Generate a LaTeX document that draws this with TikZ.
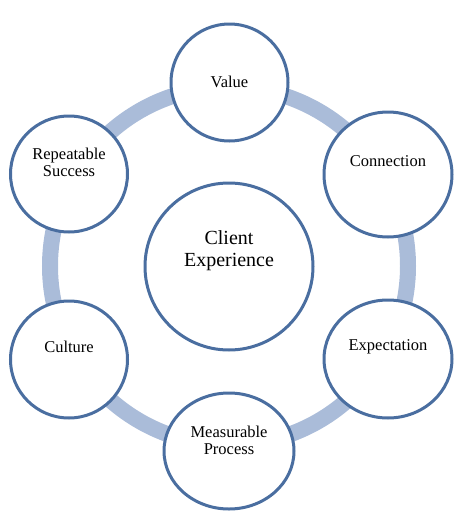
\documentclass[tikz,border=0pt]{standalone}
\usepackage{fontspec}
\setmainfont{Liberation Serif}
\usetikzlibrary{shapes.geometric}
\definecolor{ringblue}{RGB}{170,188,217}
\definecolor{edgeblue}{RGB}{74,110,160}
\tikzset{
  bubble/.style={ellipse, draw=edgeblue, line width=3pt, fill=white, inner sep=0pt},
  lbl/.style={align=center, font=\fontsize{16.5}{17}\selectfont, inner sep=0pt},
  biglbl/.style={align=center, font=\fontsize{20}{22}\selectfont, inner sep=0pt},
  ringline/.style={draw=ringblue, line width=16pt}
}
\begin{document}
\begin{tikzpicture}[x=1pt,y=-1pt]
\useasboundingbox (0,0) rectangle (465,525);
\coordinate (rc) at (229,266);
\draw[ringline] (rc) circle[radius=179];
\node[bubble, minimum width=117pt, minimum height=117pt] (value) at (229.5,82.5) {};
\node[bubble, minimum width=117pt, minimum height=116pt] (rep) at (69,174) {};
\node[bubble, minimum width=128pt, minimum height=125pt] (conn) at (388,174.5) {};
\node[bubble, minimum width=168pt, minimum height=167pt] (client) at (229,266.5) {};
\node[bubble, minimum width=117pt, minimum height=117pt] (cult) at (69,359.5) {};
\node[bubble, minimum width=128pt, minimum height=118pt] (expe) at (388,359) {};
\node[bubble, minimum width=130pt, minimum height=116pt] (meas) at (229,451) {};
\node[lbl] (tvalue) at (229.5,82) {Value};
\node[lbl] (trep) at (69,162) {Repeatable\\Success};
\node[lbl] (tconn) at (388,161) {Connection};
\node[biglbl] (tclient) at (229,251) {Client\\Experience};
\node[lbl] (tcult) at (69,347) {Culture};
\node[lbl] (texpe) at (388,347) {Expectation};
\node[lbl] (tmeas) at (229,440) {Measurable\\Process};
\end{tikzpicture}
\end{document}
